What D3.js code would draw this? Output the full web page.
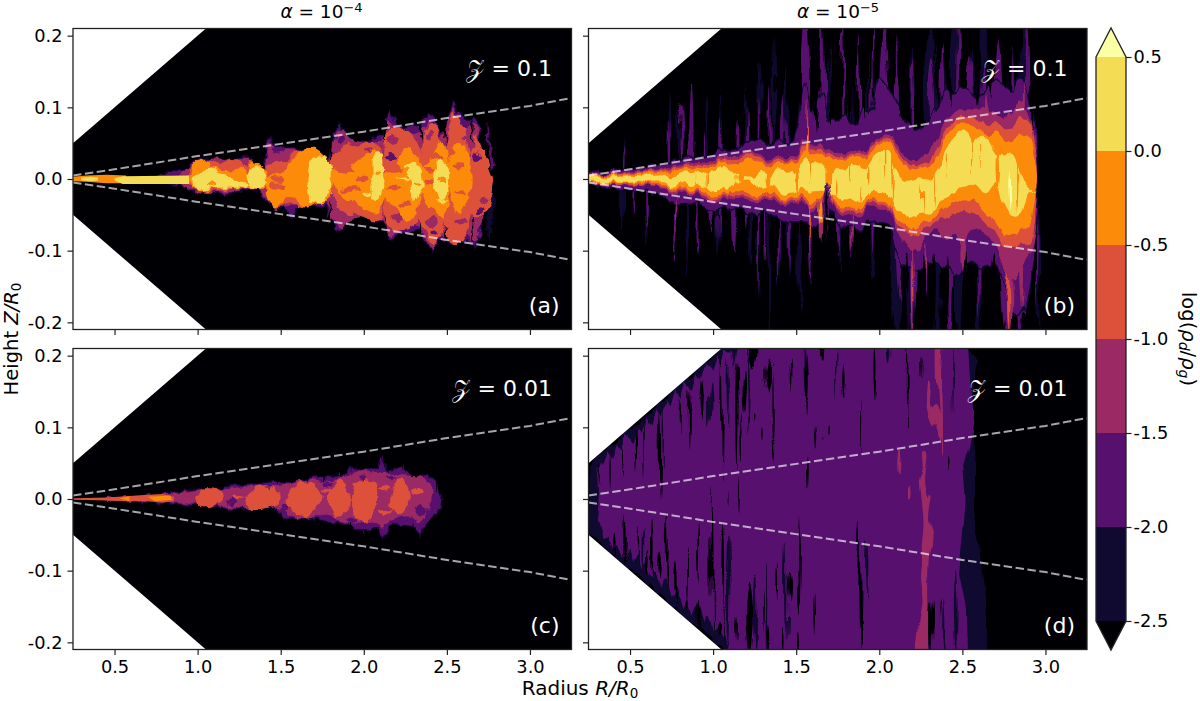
<!DOCTYPE html>
<html><head><meta charset="utf-8">
<script src="https://cdn.jsdelivr.net/npm/d3@7/dist/d3.min.js"></script>
<style>
html,body{margin:0;padding:0;background:#fff}
svg{display:block}
text{font-family:"DejaVu Sans",sans-serif;fill:#000}
</style></head><body><svg id="fig" width="1200" height="701"></svg>
<script>
// Dust-to-gas ratio maps: four panels of filled contour levels plus a colour bar.
const levelBounds = [-2.5,-2,-1.5,-1,-0.5,0,0.5];
const levelColors = ["#110a30","#57106e","#9b2964","#dd513a","#fb8b09","#f5dc55"];
const underColor = "#000004", overColor = "#fcffa4";
const [NAVY,PURPLE,PLUM,RED,ORANGE,YELLOW] = levelColors;

const xTicks = [0.5,1,1.5,2,2.5,3];
const yTicks = [-0.2,-0.1,0,0.1,0.2];
const xDomain = [0.25,3.25], yDomain = [-0.21,0.21];

// Inner boundary of the computational domain, and the dust scale height
const domainEdge = [[0.25,0.05],[1.05,0.21]];
const scaleHeightR = [0.25,0.5,1,1.5,2,2.5,3,3.25];
const scaleHeightZ = [0.005,0.0135,0.032,0.049,0.066,0.085,0.102,0.113];

// Panel (a): flat [R,Z, R,Z, ...] outlines per contour level
const aPurple = [[.75,.008,.92,.012,.97,.022,1.04,.031,1.10,.025,1.21,.029,1.26,.031,1.33,.031,1.37,.017,1.40,.008,1.41,.045,1.43,.059,1.46,.047,1.50,.043,1.66,.043,1.75,.031,1.78,.022,1.82,.064,1.85,.08,1.88,.064,1.95,.052,2.04,.055,2.11,.064,2.15,.098,2.19,.082,2.26,.07,2.33,.075,2.38,.094,2.42,.087,2.46,.064,2.49,.073,2.54,.108,2.60,.082,2.64,.082,2.68,.085,2.70,.06,2.72,.03,2.745,-.01,2.71,-.076,2.665,-.097,2.62,-.085,2.54,-.092,2.453,-.085,2.41,-.104,2.33,-.071,2.286,-.076,2.21,-.076,2.15,-.085,2.107,-.06,1.996,-.053,1.906,-.053,1.85,-.073,1.817,-.067,1.783,-.048,1.77,-.034,1.683,-.041,1.594,-.039,1.571,-.057,1.527,-.041,1.46,-.043,1.415,-.034,1.37,-.015,1.237,-.018,1.147,-.022,1.058,-.015,.969,-.018,.924,-.011,.746,-.001]];
const aStripPurple = [[2.745,.082,2.765,.05,2.78,.015,2.76,.02,2.75,.05]];
const aStripNavy = [[2.76,.0,2.785,-.03,2.77,-.06,2.76,-.092,2.745,-.06,2.75,-.02]];
const aPlum = [[.90,.008,.97,.018,1.04,.027,1.21,.028,1.33,.028,1.38,.012,1.41,.02,1.43,.05,1.46,.043,1.62,.04,1.72,.032,1.78,.02,1.82,.054,1.85,.068,1.92,.056,2.04,.05,2.11,.058,2.14,.08,2.19,.075,2.30,.063,2.34,.066,2.39,.08,2.42,.078,2.46,.058,2.52,.09,2.545,.098,2.60,.07,2.67,.075,2.70,.03,2.74,.005,2.74,-.03,2.70,-.07,2.665,-.088,2.62,-.078,2.54,-.09,2.45,-.078,2.41,-.098,2.33,-.066,2.21,-.072,2.15,-.078,2.10,-.056,2.0,-.05,1.85,-.066,1.80,-.05,1.77,-.03,1.59,-.036,1.46,-.04,1.41,-.028,1.37,-.014,1.15,-.019,.97,-.015,.90,-.006]];
const aRed = [
 [.935,.006,.969,.017,1.036,.027,1.125,.022,1.214,.029,1.259,.027,1.292,.017,1.326,.027,1.371,.017,1.404,.008,1.404,-.013,1.326,-.013,1.237,-.013,1.147,-.016,1.036,-.015,.946,-.008],
 [1.41,.017,1.44,.022,1.504,.025,1.56,.033,1.594,.04,1.66,.04,1.728,.033,1.795,.022,1.795,-.025,1.728,-.034,1.66,-.041,1.594,-.039,1.549,-.034,1.46,-.041,1.42,-.025],
 [1.80,.022,1.828,.035,1.87,.04,1.90,.05,1.951,.045,2.018,.052,2.085,.047,2.118,.031,2.118,-.034,2.107,-.055,2.04,-.057,1.951,-.05,1.88,-.048,1.85,-.04,1.80,-.012],
 [2.123,.031,2.141,.068,2.196,.074,2.263,.068,2.319,.052,2.348,.027,2.348,-.029,2.319,-.06,2.252,-.069,2.196,-.071,2.141,-.067,2.123,-.039],
 [2.335,.025,2.375,.068,2.42,.078,2.464,.054,2.504,.027,2.504,-.029,2.464,-.076,2.42,-.092,2.375,-.071,2.33,-.053],
 [2.487,.027,2.52,.078,2.542,.092,2.587,.078,2.643,.036,2.66,.003,2.66,-.011,2.643,-.048,2.587,-.085,2.542,-.092,2.497,-.076,2.487,-.029],
 [2.653,.036,2.676,.06,2.72,.036,2.78,.003,2.78,-.011,2.73,-.048,2.676,-.053,2.648,-.048]];
const aOrange = [
 [.957,.008,.991,.022,1.036,.026,1.08,.017,1.147,.013,1.237,.013,1.259,.017,1.292,.006,1.315,.02,1.348,.022,1.406,.015,1.406,-.012,1.326,-.013,1.147,-.013,.969,-.013],
 [1.415,.003,1.504,.008,1.549,.022,1.594,.031,1.616,.04,1.705,.043,1.772,.031,1.795,.022,1.795,-.025,1.728,-.034,1.672,-.041,1.616,-.036,1.549,-.025,1.504,-.034,1.449,-.041,1.415,-.015],
 [1.80,.015,1.884,.01,1.92,.015,1.951,.024,2.007,.031,2.062,.043,2.107,.033,2.118,.017,2.118,-.029,2.074,-.048,2.007,-.041,1.951,-.034,1.884,-.025,1.80,-.001],
 [2.125,.008,2.174,.017,2.23,.036,2.263,.045,2.308,.036,2.348,.022,2.348,-.025,2.319,-.048,2.252,-.06,2.196,-.039,2.13,-.029],
 [2.353,.013,2.408,.027,2.464,.052,2.504,.036,2.513,.017,2.513,-.025,2.475,-.053,2.42,-.043,2.364,-.029],
 [2.52,.031,2.576,.05,2.625,.036,2.647,.008,2.647,-.011,2.625,-.029,2.576,-.048,2.53,-.029,2.513,-.001]];
const aYellow = [
 [.973,.003,1.013,.01,1.069,.017,1.125,.008,1.192,.003,1.259,-.004,1.292,-.006,1.292,-.011,1.237,-.012,1.147,-.012,1.036,-.014,.98,-.013],
 [1.299,.008,1.326,.015,1.382,.017,1.406,.008,1.404,-.008,1.348,-.013,1.304,-.008],
 [1.665,.013,1.694,.031,1.761,.031,1.795,.022,1.799,-.001,1.783,-.025,1.728,-.032,1.683,-.034,1.665,-.015],
 [2.051,.003,2.062,.036,2.096,.04,2.121,.017,2.121,-.011,2.096,-.025,2.051,-.027,2.04,-.011],
 [2.275,.017,2.308,.027,2.348,.008,2.348,-.015,2.308,-.029,2.281,-.011],
 [2.424,.013,2.464,.027,2.504,.017,2.513,-.001,2.487,-.025,2.442,-.025,2.42,-.004]];
// The thin inner disc of panel (a)
const aInnerOrange = [[.25,.003,.33,.005,.45,.006,.57,.005,.57,-.006,.45,-.006,.33,-.004,.25,-.003]];
const aInnerYellow = [[.30,.002,.36,.003,.40,.002,.40,-.002,.36,-.003,.30,-.002],[.50,.001,.55,.004,.95,.005,.95,-.007,.55,-.007,.50,-.002]];

// Horizontal wisps inside the lobes: [R start, R end, Z, half height]
const aPlumWisps = [[2.0,2.08,.04,.004],[2.14,2.22,.055,.005],[2.16,2.26,-.055,.005],[2.38,2.44,-.06,.007],[2.38,2.42,.06,.006],[2.55,2.62,-.06,.004],[2.58,2.64,.06,.003],[2.7,2.75,-.03,.006],[1.44,1.56,.03,.005]];
const aPurpleWisps = [[2.13,2.19,.03,.005],[1.44,1.52,.04,.005],[1.83,1.88,.055,.005],[2.55,2.58,.03,.003],[2.68,2.72,-.045,.005],[2.66,2.7,.03,.006],[2.4,2.45,-.075,.005]];
const aRedWisps = [[1.83,1.95,.012,.004],[1.86,1.98,-.014,.004],[1.95,2.03,.0,.003],[2.13,2.24,.015,.005],[2.14,2.22,-.012,.004],[2.36,2.44,-.006,.004],[2.36,2.42,.012,.004],[2.4,2.48,.03,.004],[1.43,1.53,-.01,.005],[1.44,1.52,.0,.004],[2.54,2.6,.018,.004],[2.55,2.62,-.02,.004],[2.2,2.3,-.035,.004]];
const aOrangeWisps = [[2.06,2.1,.01,.003],[2.3,2.34,-.005,.002],[2.44,2.5,.0,.003],[1.05,1.12,-.008,.003]];
const aYellowWisps = [[2.24,2.32,.02,.004],[2.2,2.28,0,.002],[1.98,2.04,-.02,.003],[2.43,2.5,-.03,.003]];
// Dark notches between the lobes: [R, Z start, Z end, half width in R]
const aNotches = [[1.805,.07,.02,.008],[2.125,.09,.05,.008],[2.345,.09,.05,.007],[2.49,.09,.05,.007],[2.655,.09,.05,.006],[1.8,-.07,-.03,.008],[2.125,-.09,-.05,.006],[2.345,-.09,-.05,.005],[2.49,-.1,-.06,.006],[2.66,-.09,-.05,.006],[2.73,.09,.02,.006],[2.725,-.09,-.03,.006]];

// Panel (b): envelopes sampled along R, heights in thousandths of R0
const bR = [.25,.30,.35,.40,.45,.50,.55,.60,.65,.70,
 .75,.80,.85,.90,.95,1,1.05,1.1,1.15,1.2,
 1.25,1.3,1.35,1.4,1.45,1.5,1.55,1.6,1.65,1.7,
 1.75,1.8,1.85,1.9,1.95,2,2.05,2.1,2.15,2.2,
 2.25,2.3,2.35,2.4,2.45,2.5,2.55,2.6,2.65,2.7,
 2.75,2.8,2.85,2.9,2.93,2.96];
const bYellowTop = [3,3,2,3,3,4,4,5,3,6,
 4,8,9,11,6,12,18,14,6,2,
 5,12,3,14,11,9,30,20,25,9,
 16,12,20,14,28,40,38,15,-3,-5,
 0,-2,14,40,55,65,50,60,55,30,
 36,35,8,-15,-22,-22];
const bYellowBot = [-4,-4,-5,-4,-5,-5,-4,-6,-5,-5,
 -9,-6,-8,-8,-14,-15,-11,-16,-6,-2,
 -8,-15,-8,-19,-21,-19,-11,-18,-16,-20,
 -25,-30,-27,-33,-20,-20,-18,-40,-48,-55,
 -50,-46,-35,-30,-18,-12,-8,-14,-20,-8,
 -35,-52,-50,-25,-22,-22];
const bOrangeTop = [5,5,5,5,5,6,7,8,8,10,
 12,13,14,16,14,18,24,20,22,28,
 24,22,18,22,24,22,42,33,38,28,
 28,26,32,30,40,52,50,35,20,12,
 15,18,32,62,70,76,72,70,60,65,
 55,55,60,60,30,0];
const bOrangeBot = [-5,-6,-6,-6,-6,-6,-7,-8,-8,-9,
 -12,-13,-15,-15,-20,-22,-18,-22,-18,-22,
 -25,-22,-18,-26,-28,-26,-20,-35,-24,-20,
 -35,-42,-38,-42,-30,-32,-30,-55,-62,-72,
 -62,-58,-48,-42,-33,-30,-30,-35,-50,-60,
 -75,-78,-72,-65,-40,-5];
const bRedTop = [5,6,6,7,7,8,9,10,11,13,
 15,16,18,20,18,22,28,25,28,34,
 30,27,24,26,28,27,50,40,44,33,
 32,30,36,36,46,56,55,42,26,18,
 20,25,45,72,80,86,84,82,75,78,
 72,75,85,78,50,2];
const bRedBot = [-5,-7,-7,-8,-8,-8,-10,-10,-11,-12,
 -15,-16,-18,-18,-24,-26,-22,-26,-24,-27,
 -30,-27,-24,-30,-32,-30,-25,-42,-29,-24,
 -40,-47,-43,-47,-35,-36,-35,-62,-70,-80,
 -72,-66,-58,-55,-50,-45,-48,-52,-65,-72,
 -90,-95,-92,-90,-60,-8];
const bPlumTop = [6,7,7,8,9,10,11,12,13,15,
 18,19,21,24,22,26,32,29,32,38,
 34,31,28,30,32,32,58,46,50,38,
 38,35,40,40,50,60,60,48,32,26,
 30,40,60,85,92,96,96,100,95,90,
 85,100,110,85,60,5];
const bPlumBot = [-6,-8,-8,-9,-9,-10,-11,-12,-13,-14,
 -18,-19,-21,-21,-28,-30,-26,-30,-28,-31,
 -34,-31,-28,-34,-36,-34,-30,-47,-34,-28,
 -44,-52,-48,-52,-40,-42,-40,-70,-85,-100,
 -90,-78,-70,-85,-75,-85,-70,-72,-80,-90,
 -120,-140,-130,-105,-80,-12];
const bPurpleTop = [8,10,10,12,14,14,16,16,20,20,
 24,28,30,32,30,34,40,36,42,50,
 50,55,48,55,52,75,130,95,120,80,
 85,90,75,100,95,140,130,110,85,75,
 70,85,100,125,120,130,125,115,125,135,
 130,125,140,120,85,20];
const bPurpleBot = [-8,-10,-12,-14,-16,-16,-18,-20,-24,-26,
 -30,-36,-34,-34,-40,-42,-38,-44,-42,-48,
 -50,-46,-50,-58,-60,-60,-60,-68,-60,-38,
 -62,-66,-66,-70,-60,-62,-60,-100,-120,-125,
 -125,-115,-120,-125,-135,-125,-115,-125,-120,-120,
 -145,-190,-190,-145,-100,-30];

// Thin vertical filaments: [R, Z start, Z end, half width in R]
const bNavyStreaks = [[.46,.005,.064,.01],[.74,.01,.124,.01],[.79,.01,.096,.008],[.96,.01,.115,.008],[1.05,.01,.129,.009],[1.28,.02,.161,.008],[1.2,.02,.133,.012],[1.36,.02,.2,.008],[1.44,.03,.157,.014],[1.93,.03,.185,.014],[2.34,.04,.19,.012],[2.4,.04,.16,.012],[2.56,.06,.18,.018],[2.8,.06,.19,.016],[2.2,.03,.185,.016],[1.83,.03,.2,.016],[2.62,.06,.23,.032],[1.7,.02,.19,.024],[2.3,.05,.23,.032],[2.45,.1,.23,.02],[2.87,.1,.23,.03],[1.62,.1,.23,.01],
 [.46,-.005,-.076,.009],[.6,-.01,-.094,.009],[.84,-.01,-.136,.01],[1.03,-.01,-.11,.012],[1.13,-.02,-.1,.012],[1.27,-.02,-.17,.01],[1.34,-.03,-.23,.01],[1.23,-.02,-.122,.01],[2.1,-.04,-.23,.034],[2.35,-.06,-.23,.024],[2.48,-.06,-.23,.02],[1.46,-.03,-.14,.016],[1.68,-.03,-.09,.014],[1.4,-.03,-.15,.01],[2.96,-.02,-.23,.008],[2.18,-.05,-.23,.02],[2.6,-.1,-.23,.02],[1.96,-.03,-.14,.012],[1.76,-.03,-.13,.01],[1.52,-.03,-.19,.008]];
const bPurpleStreaks = [[.46,.005,.05,.006],[.74,.01,.085,.007],[.81,.01,.105,.012],[.87,.01,.138,.012],[.94,.01,.07,.008],[1.05,.01,.09,.006],[1.15,.01,.082,.01],[1.21,.02,.1,.007],[1.34,.02,.13,.007],[1.28,.02,.11,.005],[1.42,.02,.12,.018],[1.56,.04,.23,.026],[1.66,.03,.23,.02],[1.78,.03,.23,.009],[1.88,.03,.2,.011],[1.96,.03,.23,.007],[2.03,.03,.23,.03],[2.1,.03,.2,.012],[2.2,.03,.17,.01],[2.32,.05,.17,.022],[2.38,.05,.19,.012],[2.47,.05,.23,.013],[2.55,.05,.17,.022],[2.63,.05,.16,.02],[2.72,.05,.2,.026],[2.8,.06,.18,.012],[2.89,.06,.23,.02],
 [.6,-.01,-.07,.008],[.52,-.01,-.05,.006],[.78,-.01,-.122,.009],[.9,-.01,-.108,.007],[.99,-.01,-.076,.011],[1.03,-.01,-.085,.005],[1.13,-.01,-.103,.009],[1.2,-.02,-.071,.011],[1.27,-.02,-.16,.006],[1.32,-.02,-.113,.008],[1.4,-.03,-.14,.006],[1.46,-.03,-.14,.009],[1.59,-.03,-.15,.014],[1.75,-.03,-.105,.011],[1.84,-.03,-.113,.014],[1.96,-.03,-.1,.007],[2.12,-.05,-.17,.02],[2.21,-.05,-.23,.02],[2.28,-.05,-.17,.018],[2.42,-.05,-.23,.024],[2.6,-.08,-.19,.014],[2.76,-.08,-.23,.032],[2.85,-.08,-.23,.028],[2.95,-.02,-.18,.008],[2.52,-.06,-.16,.014]];
const bBlackGaps = [[1.62,.065,.23,.012],[1.72,.075,.23,.02],[1.83,.08,.23,.014],[1.92,.085,.23,.012],[2.13,.085,.23,.012],[2.26,.085,.23,.012],[2.42,.1,.2,.012],[2.6,.105,.23,.012],[2.68,.11,.23,.01],[2.26,-.105,-.23,.014],[2.33,-.105,-.23,.014],[2.52,-.1,-.23,.016],[2.68,-.1,-.23,.022],[2.05,-.075,-.23,.02],[2.17,-.1,-.16,.008],[2.4,-.11,-.19,.008],[2.93,-.05,-.23,.008],[2.92,.06,.23,.01]];
const bPlumStreaks = [[1.59,-.03,-.11,.008],[1.84,-.03,-.1,.006],[1.64,-.03,-.09,.006],[.78,-.02,-.08,.003],[1.56,.04,.11,.008],[2.21,-.08,-.23,.009],[2.28,-.09,-.14,.008],[2.78,-.12,-.23,.026],[2.86,-.1,-.18,.012],[2.87,.09,.14,.006],[2.5,-.08,-.13,.012],[2.64,.08,.12,.012]];
const bRedStreaks = [[2.77,-.13,-.23,.012],[2.21,-.12,-.19,.004],[1.56,.04,.085,.008],[1.59,-.03,-.09,.006]];
const bOrangeTips = [[1.55,.03,.062,.008],[1.64,-.03,-.065,.006],[2.46,.05,.085,.006]];
const bOrangeSlits = [[.9,.012,-.01,.004],[.97,.012,-.016,.005],[1.16,.01,-.01,.02],[1.33,.015,-.018,.014],[1.515,.02,-.025,.012],[1.6,.035,-.005,.006],[1.69,.03,-.025,.008],[1.75,-.025,.0,.005],[1.83,.02,-.008,.006],[1.89,-.035,-.01,.005],[1.93,.02,-.01,.005],[2.02,.05,.0,.004],[2.08,.04,-.03,.007],[2.26,-.01,-.05,.003],[2.33,.01,-.04,.005],[2.41,.04,.0,.004],[2.55,.055,.005,.004],[2.61,.06,.01,.003],[2.71,.04,-.02,.01],[2.83,.03,-.05,.007]];
const bLowNotchPurple = [[1.685,-.005,-.08,.024]];
const bLowNotchBlack = [[1.685,-.014,-.08,.015]];
const bCore = [[2.785,.012,-.042,.008]];

// Panel (c)
const cPurple = [[.634,.003,.857,.009,1.013,.015,1.147,.015,1.214,.02,1.371,.02,1.46,.024,1.549,.022,1.705,.031,1.772,.033,1.862,.031,1.929,.043,2.007,.038,2.085,.043,2.107,.059,2.141,.04,2.241,.045,2.286,.031,2.397,.033,2.442,.024,2.475,-.001,2.464,-.015,2.397,-.029,2.342,-.053,2.308,-.039,2.174,-.034,2.118,-.057,2.085,-.043,1.951,-.043,1.884,-.036,1.728,-.029,1.638,-.029,1.527,-.025,1.471,-.013,1.326,-.015,1.237,-.015,1.147,-.013,.969,-.008,.857,-.006,.656,-.005,.545,-.002]];
const cPlum = [[.455,.001,.701,.005,.857,.007,1.013,.013,1.192,.014,1.259,.017,1.46,.017,1.527,.02,1.661,.027,1.75,.024,1.884,.031,1.951,.038,2.062,.036,2.13,.038,2.23,.033,2.33,.031,2.397,.022,2.397,-.006,2.33,-.034,2.286,-.025,2.174,-.029,2.107,-.039,2.04,-.032,1.884,-.034,1.772,-.022,1.661,-.029,1.549,-.022,1.482,-.011,1.326,-.014,1.192,-.011,.969,-.006,.857,-.004,.656,-.002,.455,-.001]];
const cRed = [
 [.99,.003,1.025,.014,1.147,.01,1.154,-.001,1.125,-.008,1.013,-.011,.991,-.006],
 [1.292,.003,1.371,.017,1.46,.015,1.493,.003,1.482,-.008,1.415,-.014,1.304,-.013],
 [1.538,.003,1.571,.017,1.65,.024,1.717,.015,1.746,.001,1.705,-.015,1.65,-.028,1.594,-.02,1.538,-.008],
 [1.783,.003,1.85,.027,1.895,.013,1.917,-.001,1.884,-.02,1.828,-.025,1.795,-.011],
 [1.929,.003,1.951,.022,2.018,.029,2.062,.024,2.074,-.001,2.051,-.025,2.007,-.032,1.951,-.025,1.924,-.008],
 [2.174,.017,2.23,.029,2.27,.013,2.275,-.001,2.241,-.02,2.196,-.022,2.163,-.011]];
const cInnerRed = [[.254,.001,.455,.002,.567,.004,.701,.006,.79,.007,.857,.003,.857,-.003,.79,-.005,.701,-.003,.567,-.003,.455,-.002,.254,-.001]];
const cInnerOrange = [[.53,.001,.59,.004,.59,-.003],[.70,.003,.835,.005,.846,-.001,.745,-.003]];
const cRedWisps = [[2.08,2.16,.015,.004],[2.09,2.17,-.018,.003],[2.28,2.36,.01,.005],[1.75,1.8,.012,.002],[1.2,1.28,.004,.003]];
const cPurpleWisps = [[2.3,2.38,-.015,.008],[2.13,2.2,.03,.004],[1.76,1.8,.02,.004],[1.5,1.56,-.012,.005],[1.17,1.24,-.004,.006],[1.97,2.02,.03,.003],[1.9,1.96,-.03,.004]];
const cTips = [[2.12,.03,.06,.006],[2.12,-.03,-.06,.006],[2.34,-.03,-.055,.004],[1.95,.03,.045,.005],[2.25,.03,.048,.005],[2.0,-.035,-.05,.005],[1.48,.015,.025,.008],[1.86,.025,.036,.006]];
const cNotches = [[1.48,.03,.018,.004],[1.77,.04,.02,.004],[2.44,.03,.01,.005],[2.29,-.05,-.03,.004],[1.92,-.05,-.03,.003]];

// Panel (d): the whole disc is filled, so the outlines follow the domain and run past the frame
const dNavy = [[.25,.05,1.15,.23,2.53,.23,2.53,.21,2.6,.194,2.56,.13,2.55,.084,2.57,.05,2.57,-.011,2.61,-.057,2.63,-.104,2.65,-.141,2.66,-.23,1.15,-.23,.25,-.05]];
const dPurple = [[.30,.042,.33,.045,.36,.066,.39,.056,.42,.078,.45,.068,.48,.09,.51,.08,.54,.102,.57,.092,.60,.114,.63,.104,.66,.126,.69,.116,.72,.138,.75,.128,.78,.15,.81,.14,.84,.162,.87,.152,.90,.174,.93,.164,.96,.186,.99,.176,1.02,.198,1.05,.185,1.08,.21,1.12,.21,1.13,.185,1.16,.23,2.53,.23,2.55,.15,2.56,.12,2.54,.084,2.505,.05,2.52,0,2.51,-.034,2.49,-.08,2.48,-.104,2.52,-.15,2.53,-.23,1.12,-.23,1.08,-.19,1.05,-.195,1.02,-.175,.99,-.185,.96,-.16,.93,-.172,.90,-.145,.87,-.16,.84,-.135,.81,-.15,.78,-.125,.75,-.135,.72,-.11,.69,-.125,.66,-.1,.63,-.112,.60,-.09,.57,-.1,.54,-.08,.51,-.09,.48,-.07,.45,-.08,.42,-.06,.39,-.068,.36,-.05,.33,-.055,.30,-.03]];
const dPlum = [
 [2.357,.23,2.372,.23,2.372,.166,2.378,.106,2.378,.059,2.36,.087,2.357,.12,2.347,.166],
 [2.3,.168,2.32,.164,2.32,.133,2.367,.115,2.357,.082,2.32,.101,2.286,.129,2.286,.143],
 [2.266,.064,2.286,.061,2.276,.022,2.292,-.001,2.312,.003,2.3,-.029,2.327,-.053,2.306,-.076,2.3,-.113,2.3,-.15,2.276,-.23,2.235,-.23,2.245,-.178,2.266,-.146,2.251,-.108,2.259,-.085,2.255,-.067,2.266,-.029,2.255,-.001,2.245,.022,2.266,.036],
 [2.115,.064,2.122,.066,2.12,.033,2.113,.033],
 [2.165,.017,2.18,.018,2.185,.002,2.17,.002]];
const dBlackStreaks = [[1.05,.197,.023,.007],[.94,.163,.107,.009],[.86,.15,.07,.006],[.8,.14,.09,.007],[.68,.12,.0,.007],[.59,.116,.03,.005],[.53,.1,.04,.007],[.46,.07,.03,.006],[.38,.06,.014,.004],[.32,.05,.02,.004],[1.14,.19,.04,.007],[1.18,.18,.12,.009],[1.17,.12,.05,.006],[1.24,.22,.18,.02],[1.33,.2,.15,.022],[1.37,.195,.05,.007],[1.46,.195,.15,.005],[1.56,.2,.12,.009],[1.62,.1,.07,.006],[1.57,.06,.018,.005],[1.66,.22,.19,.016],[1.25,.12,.11,.005],[1.3,.1,.08,.005],
 [.99,.018,-.2,.006],[1.07,-.03,-.2,.008],[1.15,.03,-.02,.005],[1.09,.01,-.01,.003],
 [.46,-.023,-.09,.008],[.55,-.036,-.09,.005],[.64,-.03,-.116,.008],[.73,-.017,-.124,.008],[.84,-.07,-.154,.008],[.91,-.03,-.124,.006],[.77,-.09,-.144,.01],[.69,-.07,-.11,.008],[.61,-.074,-.106,.008],[.4,-.047,-.078,.007],[1.22,-.116,-.22,.02],[1.3,-.13,-.19,.005],[1.38,-.09,-.14,.005],[1.46,-.1,-.144,.009],[1.52,-.017,-.15,.008],[1.51,-.116,-.163,.011],[1.62,-.13,-.19,.005],[1.33,-.18,-.22,.008],[1.41,-.18,-.22,.008],[1.15,-.17,-.2,.005],[1.03,-.17,-.19,.011],[.9,-.14,-.18,.006],[1.5,-.185,-.22,.01],
 [1.79,.185,.14,.007],[1.98,.22,.14,.009],[1.68,.1,.085,.006],[2.165,.22,.085,.005],[2.31,-.14,-.22,.01],[2.38,-.14,-.17,.006],[2.43,.06,.04,.004],[1.9,.14,.06,.003],[1.88,-.03,-.22,.008],[2.25,.2,.17,.003]];
const dNavyStreaks = [[1.88,-.03,-.22,.013],[1.93,-.06,-.14,.01],[1.44,-.06,-.2,.007],[1.1,-.05,-.22,.01],[1.25,-.1,-.22,.01],[2.45,.22,.12,.005],[1.1,.2,.1,.007],[2.4,-.14,-.22,.009],[2.46,-.1,-.22,.011],[1.32,-.08,-.22,.006],[1.75,.22,.14,.005],[.7,.13,.03,.005],[.58,-.04,-.11,.005],[.3,.045,-.03,.012],[1.21,.22,.09,.01],[.98,.16,.1,.01],[.78,-.12,-.15,.01],[2.05,.22,.19,.01],[1.55,.22,.15,.006]];

// Panel captions
const panelNotes = [["0.1","(a)"],["0.1","(b)"],["0.01","(c)"],["0.01","(d)"]];
const columnTitles = [{x:321.5,exp:"−4"},{x:838,exp:"−5"}];

const svg = d3.select("#fig");
const frames = [
 {x0:73,x1:571.5,y0:28.5,y1:329.5},{x0:588.5,x1:1087,y0:28.5,y1:329.5},
 {x0:73,x1:571.5,y0:348.5,y1:649.5},{x0:588.5,x1:1087,y0:348.5,y1:649.5}];

// Turbulent ripple applied to contour edges: frequency along x/y, detail, strength, seed
const ripples = [
 {freq:"0.10 0.09",octaves:3,scale:9,seed:4},
 {freq:"0.11 0.018",octaves:2,scale:11,seed:9},
 {freq:"0.11 0.09",octaves:3,scale:8,seed:12},
 {freq:"0.09 0.012",octaves:2,scale:13,seed:21}];

const pairs = flat => d3.range(0,flat.length,2).map(i=>[flat[i],flat[i+1]]);
const tickText = d => d3.format(".1f")(d).replace("−","-");
const SPINE = "#222";
const defs = svg.append("defs");

function drawPanel(f,i,paint){
  const x = d3.scaleLinear(xDomain,[f.x0,f.x1]);
  const y = d3.scaleLinear(yDomain,[f.y1,f.y0]);
  const id = "clip"+i;
  defs.append("clipPath").attr("id",id).append("rect")
    .attr("x",f.x0).attr("y",f.y0).attr("width",f.x1-f.x0).attr("height",f.y1-f.y0);
  const flt = defs.append("filter").attr("id","ripple"+i).attr("filterUnits","userSpaceOnUse")
    .attr("x",f.x0-30).attr("y",f.y0-30).attr("width",f.x1-f.x0+60).attr("height",f.y1-f.y0+60)
    .attr("color-interpolation-filters","sRGB");
  flt.append("feTurbulence").attr("type","fractalNoise").attr("baseFrequency",ripples[i].freq)
    .attr("numOctaves",ripples[i].octaves).attr("seed",ripples[i].seed).attr("result","n");
  flt.append("feDisplacementMap").attr("in","SourceGraphic").attr("in2","n").attr("scale",ripples[i].scale)
    .attr("xChannelSelector","R").attr("yChannelSelector","G");

  const g = svg.append("g").attr("clip-path",`url(#${id})`);
  g.append("rect").attr("x",f.x0).attr("y",f.y0).attr("width",f.x1-f.x0).attr("height",f.y1-f.y0).attr("fill",underColor);
  const rippled = g.append("g").attr("filter",`url(#ripple${i})`);
  const calm = g.append("g");
  const line = d3.line().x(d=>x(d[0])).y(d=>y(d[1]));
  const soft = d3.curveCatmullRomClosed.alpha(0.5);

  // contour painters; rippled unless the layer is passed explicitly
  const api = {
    calm,
    outlines(list,color,halo,haloWidth,layer=rippled){
      layer.selectAll(null).data(list).join("path")
        .attr("d",d=>line.curve(d3.curveLinearClosed)(pairs(d)))
        .attr("fill",color).attr("stroke",halo||"none").attr("stroke-width",halo?(haloWidth||1.2):0);
    },
    soft(list,color){
      rippled.selectAll(null).data(list).join("path")
        .attr("d",d=>line.curve(soft)(pairs(d))).attr("fill",color);
    },
    band(Rs,top,bot,color,halo){
      const area = d3.area().x((d,k)=>x(Rs[k])).y0((d,k)=>y(bot[k]/1000)).y1((d,k)=>y(top[k]/1000))
        .curve(d3.curveCatmullRom.alpha(0.5));
      rippled.append("path").attr("d",area(Rs)).attr("fill",color)
        .attr("stroke",halo||"none").attr("stroke-width",halo?1.5:0);
    },
    // a filament stays broad near its root and narrows only at the far tip
    streaks(list,color){
      rippled.selectAll(null).data(list).join("path")
        .attr("d",([R,z1,z2,w])=>{
          const zm = z1+(z2-z1)*0.35, zn = z1+(z2-z1)*0.82;
          return line.curve(soft)([[R,z1],[R-w,zm],[R-w*0.55,zn],[R,z2],[R+w*0.55,zn],[R+w,zm]]);
        }).attr("fill",color);
    },
    wisps(list,color){
      rippled.selectAll(null).data(list).join("path")
        .attr("d",([r1,r2,z,h])=>{
          const rm = (r1+r2)/2;
          return line.curve(soft)([[r1,z],[rm,z+h],[r2,z],[rm,z-h]]);
        }).attr("fill",color);
    }
  };
  paint(api);

  // white corners inside the inner boundary of the domain
  const [[r0,z0],[r1,z1]] = domainEdge;
  [1,-1].forEach(s=>{
    calm.append("path").datum([[xDomain[0],s*z0],[r1,s*z1],[xDomain[0],s*yDomain[1]]])
      .attr("d",line.curve(d3.curveLinearClosed)).attr("fill","#fff");
    calm.append("path").datum(scaleHeightR.map((R,k)=>[R,s*scaleHeightZ[k]]))
      .attr("d",line.curve(d3.curveLinear)).attr("fill","none")
      .attr("stroke","#fff").attr("stroke-opacity",0.65).attr("stroke-width",2).attr("stroke-dasharray","8.5,3.5");
  });

  // frame and ticks
  svg.append("rect").attr("x",f.x0).attr("y",f.y0).attr("width",f.x1-f.x0).attr("height",f.y1-f.y0)
    .attr("fill","none").attr("stroke",SPINE).attr("stroke-width",1.3);
  const ax = d3.axisBottom(x).tickValues(xTicks).tickSize(5.5).tickPadding(5).tickFormat(i>=2?tickText:"");
  const ay = d3.axisLeft(y).tickValues(yTicks).tickSize(5.5).tickPadding(5).tickFormat(i%2==0?tickText:"");
  [svg.append("g").attr("transform",`translate(0,${f.y1})`).call(ax),
   svg.append("g").attr("transform",`translate(${f.x0},0)`).call(ay)].forEach(a=>{
    a.select(".domain").remove();
    a.selectAll("text").style("font-size","17.8px").style("font-family",'"DejaVu Sans"');
    a.selectAll("line").attr("stroke",SPINE).attr("stroke-width",1.2);
  });

  // captions
  const note = svg.append("text").attr("text-anchor","end").attr("x",f.x1-19.5).attr("y",f.y0+47)
    .style("font-size","22px").style("fill","#fff");
  note.append("tspan").text("𝒵").style("font-family",'"DejaVu Serif","Noto Sans Math",serif');
  note.append("tspan").text(" = "+panelNotes[i][0]);
  svg.append("text").attr("text-anchor","end").attr("x",f.x1-12).attr("y",f.y1-17)
    .style("font-size","22px").style("fill","#fff").text(panelNotes[i][1]);
}

drawPanel(frames[0],0,p=>{
  p.outlines(aPurple,PURPLE,NAVY); p.soft(aStripPurple,PURPLE); p.soft(aStripNavy,NAVY);
  p.soft(aPlum,PLUM); p.streaks(aNotches,underColor);
  p.soft(aRed,RED); p.wisps(aPlumWisps,PLUM); p.wisps(aPurpleWisps,PURPLE);
  p.soft(aOrange,ORANGE); p.wisps(aRedWisps,RED);
  p.soft(aYellow,YELLOW); p.wisps(aOrangeWisps,ORANGE); p.wisps(aYellowWisps,YELLOW);
  p.outlines(aInnerOrange,ORANGE,null,0,p.calm); p.outlines(aInnerYellow,YELLOW,null,0,p.calm);
});
drawPanel(frames[1],1,p=>{
  p.streaks(bNavyStreaks,NAVY); p.streaks(bPurpleStreaks,PURPLE);
  p.band(bR,bPurpleTop,bPurpleBot,PURPLE,NAVY);
  p.streaks(bBlackGaps,underColor);
  p.streaks(bPlumStreaks,PLUM);
  p.band(bR,bPlumTop,bPlumBot,PLUM); p.streaks(bRedStreaks,RED);
  p.band(bR,bRedTop,bRedBot,RED); p.streaks(bOrangeTips,ORANGE); p.band(bR,bOrangeTop,bOrangeBot,ORANGE);
  p.band(bR,bYellowTop,bYellowBot,YELLOW); p.streaks(bOrangeSlits,ORANGE); p.streaks(bCore,overColor);
  p.streaks(bLowNotchPurple,PURPLE); p.streaks(bLowNotchBlack,underColor);
});
drawPanel(frames[2],2,p=>{
  p.streaks(cTips,PURPLE);
  p.outlines(cPurple,PURPLE,NAVY); p.streaks(cNotches,underColor); p.soft(cPlum,PLUM); p.wisps(cPurpleWisps,PURPLE);
  p.soft(cRed,RED); p.wisps(cRedWisps,RED);
  p.outlines(cInnerRed,RED,null,0,p.calm); p.outlines(cInnerOrange,ORANGE,null,0,p.calm);
});
drawPanel(frames[3],3,p=>{
  p.outlines(dNavy,NAVY,underColor,2); p.outlines(dPurple,PURPLE);
  p.streaks(dNavyStreaks,NAVY); p.streaks(dBlackStreaks,underColor);
  p.soft(dPlum,PLUM);
});

// Column titles
columnTitles.forEach(t=>{
  const s = svg.append("text").attr("x",t.x).attr("y",18).attr("text-anchor","middle").style("font-size","18.5px");
  s.append("tspan").text("α").style("font-style","italic");
  s.append("tspan").text(" = 10");
  s.append("tspan").text(t.exp).attr("dy",-6).style("font-size","13px");
});

// Axis titles
const mathLabel = (sel,word,v)=>{
  sel.append("tspan").text(word+" ");
  sel.append("tspan").text(v+"/R").style("font-style","italic");
  sel.append("tspan").text("0").attr("dy",2.5).style("font-size","13.5px");
};
mathLabel(svg.append("text").attr("x",580).attr("y",695).attr("text-anchor","middle").style("font-size","20px"),"Radius","R");
mathLabel(svg.append("text").attr("transform","translate(18,339) rotate(-90)").attr("text-anchor","middle").style("font-size","19.5px"),"Height","Z");

// Colour bar with extension triangles
const cb = {x0:1096,x1:1126,y0:621,y1:57,tipLow:650,tipHigh:28};
const cy = d3.scaleLinear([levelBounds[0],levelBounds[6]],[cb.y0,cb.y1]);
svg.selectAll(null).data(levelColors).join("rect")
  .attr("x",cb.x0).attr("width",cb.x1-cb.x0)
  .attr("y",(d,i)=>cy(levelBounds[i+1])).attr("height",(d,i)=>cy(levelBounds[i])-cy(levelBounds[i+1]))
  .attr("fill",d=>d);
const xm = (cb.x0+cb.x1)/2;
svg.append("path").attr("d",`M${cb.x0},${cb.y1}L${xm},${cb.tipHigh}L${cb.x1},${cb.y1}Z`).attr("fill",overColor);
svg.append("path").attr("d",`M${cb.x0},${cb.y0}L${xm},${cb.tipLow}L${cb.x1},${cb.y0}Z`).attr("fill",underColor);
svg.append("path").attr("d",`M${cb.x0},${cb.y1}L${xm},${cb.tipHigh}L${cb.x1},${cb.y1}V${cb.y0}L${xm},${cb.tipLow}L${cb.x0},${cb.y0}Z`)
  .attr("fill","none").attr("stroke",SPINE).attr("stroke-width",1.3);
const cbAxis = svg.append("g").attr("transform",`translate(${cb.x1},0)`)
  .call(d3.axisRight(cy).tickValues(levelBounds).tickSize(5.5).tickPadding(2).tickFormat(tickText));
cbAxis.select(".domain").remove();
cbAxis.selectAll("text").style("font-size","17.8px").style("font-family",'"DejaVu Sans"');
cbAxis.selectAll("line").attr("stroke",SPINE).attr("stroke-width",1.2);

const cbl = svg.append("text").attr("transform","translate(1182,339) rotate(90)").attr("text-anchor","middle").style("font-size","19.5px");
cbl.append("tspan").text("log(");
cbl.append("tspan").text("ρ").style("font-style","italic");
cbl.append("tspan").text("d").attr("dy",3).style("font-size","14px").style("font-style","italic");
cbl.append("tspan").text("/").attr("dy",-3);
cbl.append("tspan").text("ρ").style("font-style","italic");
cbl.append("tspan").text("g").attr("dy",3).style("font-size","14px").style("font-style","italic");
cbl.append("tspan").text(")").attr("dy",-3);
</script></body></html>
